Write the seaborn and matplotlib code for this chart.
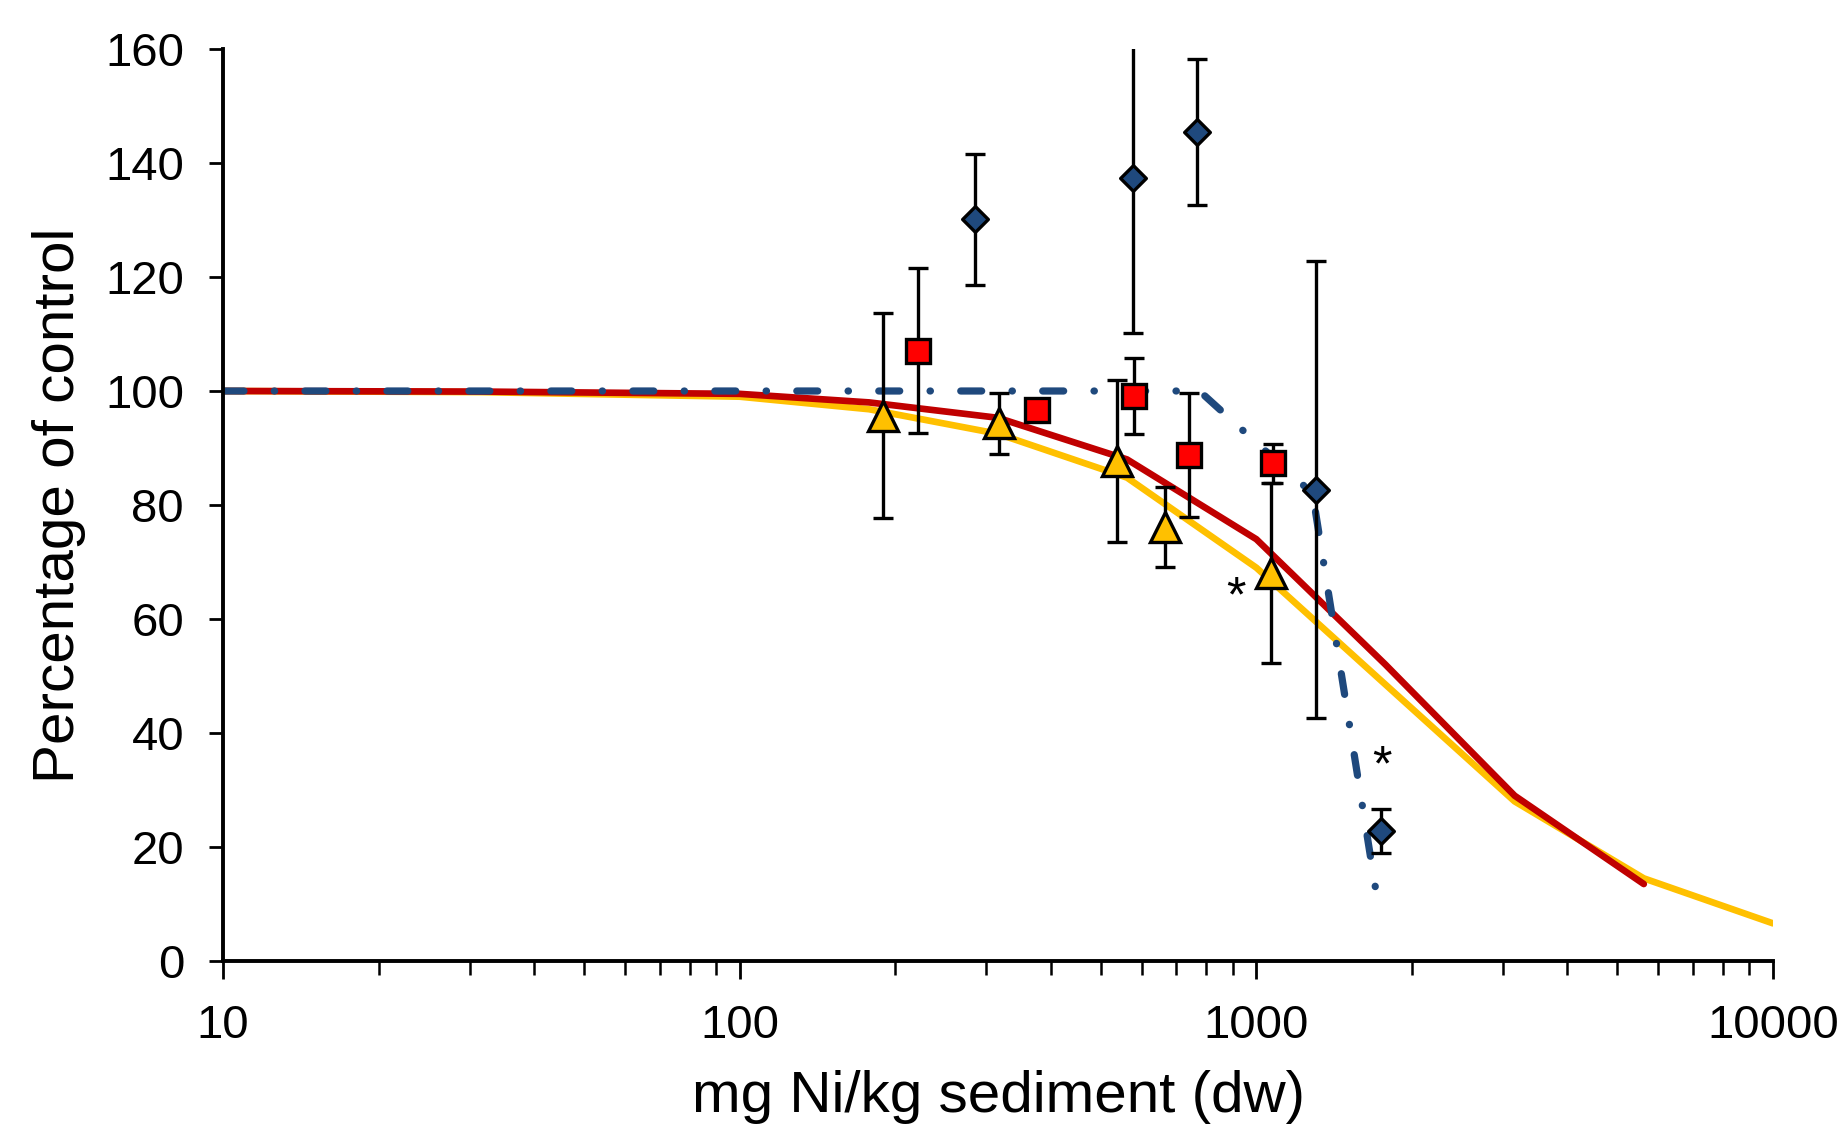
import matplotlib
matplotlib.use("Agg")
import matplotlib.pyplot as plt
import seaborn as sns
import numpy as np
import pandas as pd

# ---- data ----
blue_x = [285, 577, 769, 1306, 1746]
blue_y = [130.1, 137.4, 145.4, 82.7, 22.8]
blue_err = [11.5, 27.3, 12.8, 40.1, 3.9]

red_x = [221, 377, 581, 740, 1076]
red_y = [107.1, 96.6, 99.1, 88.8, 87.3]
red_err = [14.5, 1.5, 6.7, 10.9, 3.4]

yellow_x = [189, 317, 538, 665, 1069]
yellow_y = [95.7, 94.3, 87.7, 76.1, 68.0]
yellow_err = [18.0, 5.3, 14.2, 7.0, 15.8]

red_curve_x = [10, 31.6, 100, 178, 316, 562, 1000, 1778, 3162, 5623]
red_curve_y = [100, 99.9, 99.5, 98.0, 95.3, 88.0, 74.0, 52.0, 29.0, 13.5]

yellow_curve_x = [10, 31.6, 100, 178, 316, 562, 1000, 1778, 3162, 5623, 10000]
yellow_curve_y = [100, 99.8, 99.0, 96.8, 92.5, 84.8, 69.0, 48.5, 28.0, 14.5, 6.6]

blue_curve_x = [10, 776, 1285, 1720]
blue_curve_y = [100, 100, 82, 10]

star_x = [912, 1753]
star_y = [61.4, 31.6]

xticks = [10, 100, 1000, 10000]
xticklabels = ["10", "100", "1000", "10000"]
yticks = [0, 20, 40, 60, 80, 100, 120, 140, 160]

xlabel = "mg Ni/kg sediment (dw)"
ylabel = "Percentage of control"

# ---- style ----
sns.set_theme(style="ticks")
plt.rcParams['font.family'] = ['Liberation Sans', 'DejaVu Sans']

RED = "#C00000"
YEL = "#FFC000"
BLUE = "#1F497D"

fig = plt.figure(figsize=(18.44, 11.42), dpi=100)
fig.patch.set_facecolor("white")
ax = fig.add_axes([223/1844, 1-961/1142, (1773-223)/1844, (961-49)/1142])
ax.set_facecolor("white")

# curves
dy = pd.DataFrame({"x": yellow_curve_x, "y": yellow_curve_y})
dr = pd.DataFrame({"x": red_curve_x, "y": red_curve_y})
db = pd.DataFrame({"x": blue_curve_x, "y": blue_curve_y})
sns.lineplot(data=dy, x="x", y="y", ax=ax, color=YEL, linewidth=4.8,
             estimator=None, sort=False, zorder=2)
sns.lineplot(data=dr, x="x", y="y", ax=ax, color=RED, linewidth=4.8,
             estimator=None, sort=False, zorder=2.1)
sns.lineplot(data=db, x="x", y="y", ax=ax, color=BLUE, linewidth=5.2,
             estimator=None, sort=False, zorder=2.2)
bl = ax.lines[-1]
bl.set_dashes([2.9, 4.2, 0.05, 4.2])
bl.set_dash_capstyle("round")

# diamond marker defined by its vertices (diagonal == markersize)
diamond = [(0, 1), (1, 0), (0, -1), (-1, 0), (0, 1)]

# points with error bars
common = dict(ecolor="black", elinewidth=2.4, capsize=7.5, capthick=2.4,
              markeredgecolor="black", markeredgewidth=2.4, linestyle="none",
              zorder=3)
ax.errorbar(blue_x, blue_y, yerr=blue_err, fmt="none", **common)
ax.plot(blue_x, blue_y, marker=diamond, markersize=18.5, linestyle="none",
        markerfacecolor=BLUE, markeredgecolor="black", markeredgewidth=2.4,
        zorder=3.5)
ax.errorbar(red_x, red_y, yerr=red_err, fmt="s", markersize=17.8,
            markerfacecolor="#FF0000", **common)
ax.errorbar(yellow_x, yellow_y, yerr=yellow_err, fmt="^", markersize=21.5,
            markerfacecolor=YEL, **common)

for sx, sy in zip(star_x, star_y):
    ax.text(sx, sy, "*", fontsize=36, ha="center", va="baseline", color="black")

# axes
ax.set_xscale("log")
ax.set_xlim(10, 10000)
ax.set_ylim(0, 160)
ax.set_xticks(xticks)
ax.set_xticklabels(xticklabels)
ax.set_yticks(yticks)
ax.set_yticklabels([str(v) for v in yticks])
ax.xaxis.set_minor_locator(matplotlib.ticker.LogLocator(base=10, subs=np.arange(2, 10)))
ax.xaxis.set_minor_formatter(matplotlib.ticker.NullFormatter())

for s in ["top", "right"]:
    ax.spines[s].set_visible(False)
for s in ["left", "bottom"]:
    ax.spines[s].set_linewidth(2.8)
    ax.spines[s].set_color("black")

ax.tick_params(axis="y", which="major", direction="out", length=10, width=2,
               labelsize=34, pad=18, colors="black")
ax.tick_params(axis="x", which="major", direction="out", length=13, width=2,
               labelsize=34, pad=18, colors="black")
ax.tick_params(axis="x", which="minor", direction="out", length=10, width=1.8,
               colors="black")

ax.set_xlabel(xlabel, fontsize=42, labelpad=16, color="black")
ax.set_ylabel(ylabel, fontsize=42, labelpad=14, color="black")
ax.grid(False)

fig.savefig("out.png", dpi=100, facecolor="white")
